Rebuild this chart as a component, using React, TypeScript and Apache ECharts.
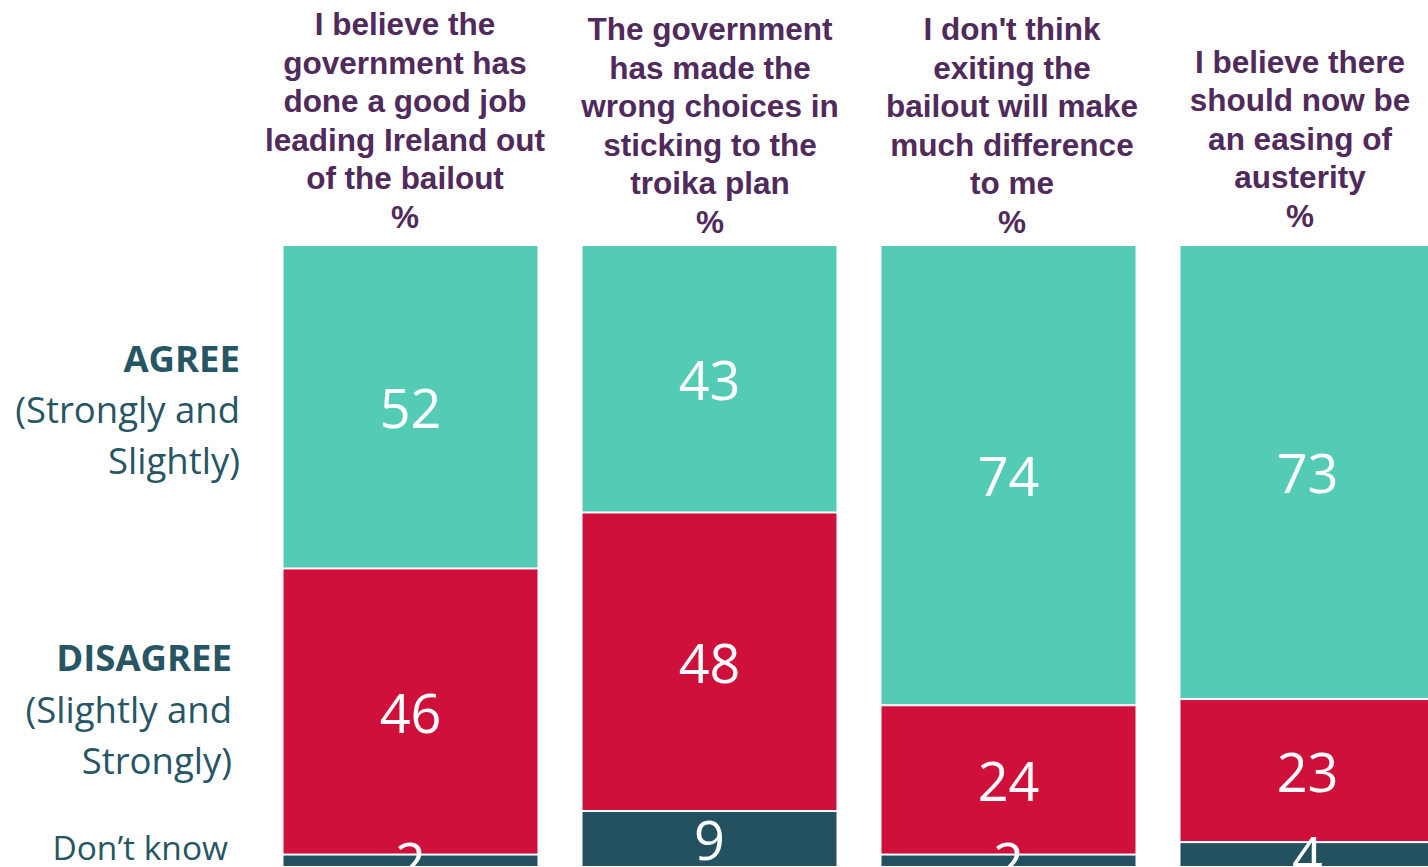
import React, { useEffect, useRef } from "react";
import * as echarts from "echarts";

const categories = [
  "I believe the\ngovernment has\ndone a good job\nleading Ireland out\nof the bailout\n%",
  "The government\nhas made the\nwrong choices in\nsticking to the\ntroika plan\n%",
  "I don't think\nexiting the\nbailout will make\nmuch difference\nto me\n%",
  "I believe there\nshould now be\nan easing of\nausterity\n%",
];
const agree = [52, 43, 74, 73];
const disagree = [46, 48, 24, 23];
const dontKnow = [2, 9, 2, 4];

const seriesNames = ["AGREE", "DISAGREE", "Don\u2019t know"];
const colors = ["#53CBB5", "#CF103B", "#235160"];

// header layout: [centerX, bottomY]
const headerPos = [
  [405, 236],
  [710, 241],
  [1012, 241],
  [1300, 235],
];

export default function App() {
  const ref = useRef<HTMLDivElement>(null);
  useEffect(() => {
    if (!ref.current) return;
    const chart = echarts.init(ref.current, undefined, { renderer: "svg" });
    const labelStyle = {
      show: true,
      position: "inside",
      color: "#ffffff",
      fontSize: 54,
      fontFamily: "Open Sans",
    };
    const mk = (name: string, data: number[], color: string) => ({
      name,
      type: "bar",
      stack: "total",
      data,
      barWidth: 256,
      itemStyle: { color, borderColor: "#ffffff", borderWidth: 1 },
      label: labelStyle,
    });
    const leftColor = "#265564";
    const leftFont = "Open Sans";
    const fs = 36.5;
    chart.setOption({
      animation: false,
      grid: { left: 261, right: 0, top: 245, bottom: 0 },
      xAxis: {
        type: "category",
        data: categories,
        show: false,
      },
      yAxis: { type: "value", min: 0, max: 100, inverse: true, show: false },
      series: [
        mk(seriesNames[0], agree, colors[0]),
        mk(seriesNames[1], disagree, colors[1]),
        mk(seriesNames[2], dontKnow, colors[2]),
      ],
      graphic: [
        ...categories.map((c, i) => ({
          type: "text",
          x: headerPos[i][0],
          y: headerPos[i][1],
          style: {
            text: c,
            align: "center",
            verticalAlign: "bottom",
            fontFamily: "Liberation Sans",
            fontWeight: "bold",
            fontSize: 31.5,
            lineHeight: 38.5,
            fill: "#4F2A5B",
          },
        })),
        {
          type: "text",
          x: 240,
          y: 358,
          style: { text: "AGREE", align: "right", verticalAlign: "middle", fontFamily: leftFont, fontWeight: "bold", fontSize: fs, fill: leftColor },
        },
        {
          type: "text",
          x: 240,
          y: 434,
          style: { text: "(Strongly and\nSlightly)", align: "right", verticalAlign: "middle", fontFamily: leftFont, fontSize: fs, lineHeight: 51, fill: leftColor },
        },
        {
          type: "text",
          x: 232,
          y: 657,
          style: { text: "DISAGREE", align: "right", verticalAlign: "middle", fontFamily: leftFont, fontWeight: "bold", fontSize: fs, fill: leftColor },
        },
        {
          type: "text",
          x: 232,
          y: 734,
          style: { text: "(Slightly and\nStrongly)", align: "right", verticalAlign: "middle", fontFamily: leftFont, fontSize: fs, lineHeight: 51, fill: leftColor },
        },
        {
          type: "text",
          x: 228,
          y: 847,
          style: { text: seriesNames[2], align: "right", verticalAlign: "middle", fontFamily: leftFont, fontSize: 33.5, lineHeight: 30, fill: leftColor },
        },
      ],
    });
    return () => chart.dispose();
  }, []);
  return (
    <div style={{ position: "fixed", left: 0, top: 0, width: 1428, height: 867, overflow: "hidden", background: "#fff" }}>
      <div ref={ref} style={{ width: 1457, height: 867 }} />
    </div>
  );
}
